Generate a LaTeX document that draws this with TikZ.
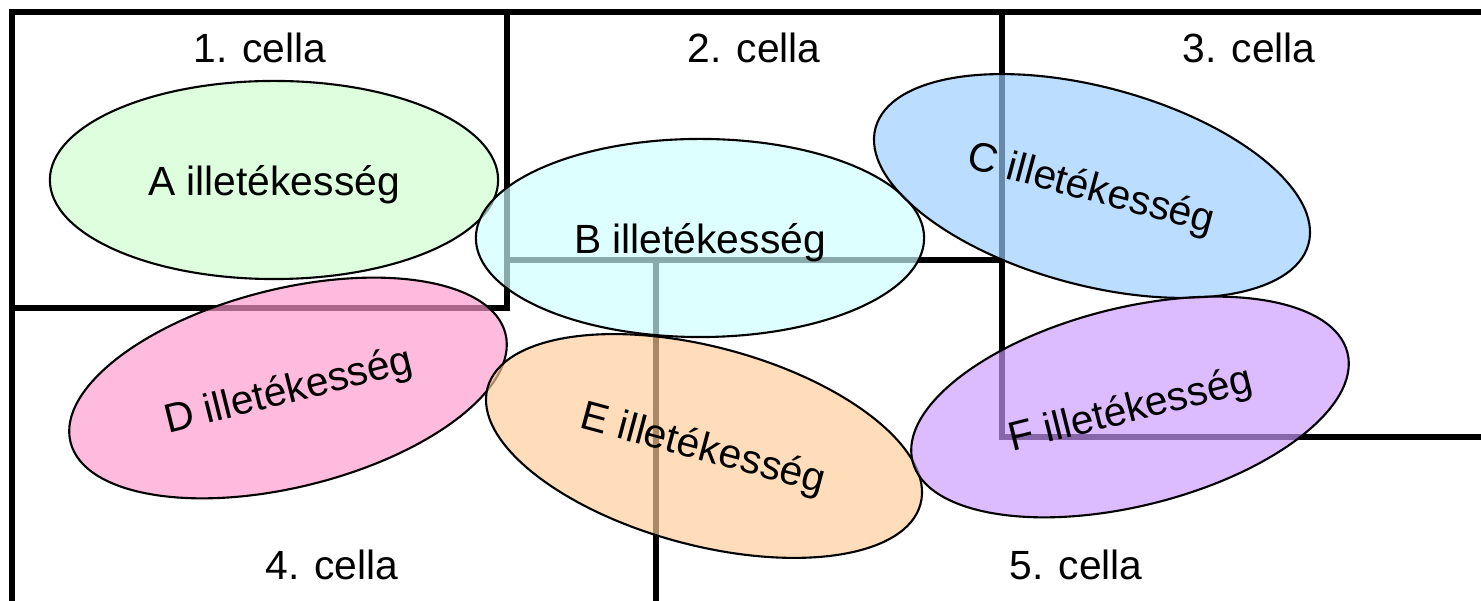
\documentclass[tikz,border=0pt]{standalone}
\usepackage{fontspec}
\setmainfont{Liberation Sans}
\usetikzlibrary{shapes.geometric}

\definecolor{zoneA}{HTML}{CCFFCC}
\definecolor{zoneB}{HTML}{CCFFFF}
\definecolor{zoneC}{HTML}{99CCFF}
\definecolor{zoneD}{HTML}{FF99CC}
\definecolor{zoneE}{HTML}{FFCC99}
\definecolor{zoneF}{HTML}{CC99FF}

\tikzset{
  wall/.style={line width=1.9pt},
  zone/.style={ellipse,draw=black,line width=0.6pt,fill opacity=0.667,text opacity=1,
    minimum width=4.48cm,minimum height=1.98cm,inner sep=0pt,text depth=0pt},
  cellname/.style={anchor=base}
}

\begin{document}
\begin{tikzpicture}[x=0.01cm,y=-0.01cm,font=\fontsize{11.6}{14}\selectfont]
\useasboundingbox (0,0) rectangle (1481,601);

\draw[wall] (12,601) -- (12,12) -- (1481,12);
\draw[wall] (12,308) -- (507,308) -- (507,12);
\draw[wall] (507,260) -- (1002,260);
\draw[wall] (1002,12) -- (1002,437) -- (1481,437);
\draw[wall] (656,260) -- (656,601);

\node[cellname] (c1) at (260,63) {1. cella};
\node[cellname] (c2) at (754,63) {2. cella};
\node[cellname] (c3) at (1249,63) {3. cella};
\node[cellname] (c4) at (332,580) {4. cella};
\node[cellname] (c5) at (1076,580) {5. cella};

\node[zone,fill=zoneA] (A) at (274,180) {A illetékesség};
\node[zone,fill=zoneB] (B) at (700,238) {B illetékesség};
\node[zone,fill=zoneC,rotate=-15] (C) at (1092,186) {C illetékesség};
\node[zone,fill=zoneD,rotate=14] (D) at (288,388) {D illetékesség};
\node[zone,fill=zoneE,rotate=-15] (E) at (704,446) {E illetékesség};
\node[zone,fill=zoneF,rotate=14] (F) at (1130,407) {F illetékesség};

\end{tikzpicture}
\end{document}
